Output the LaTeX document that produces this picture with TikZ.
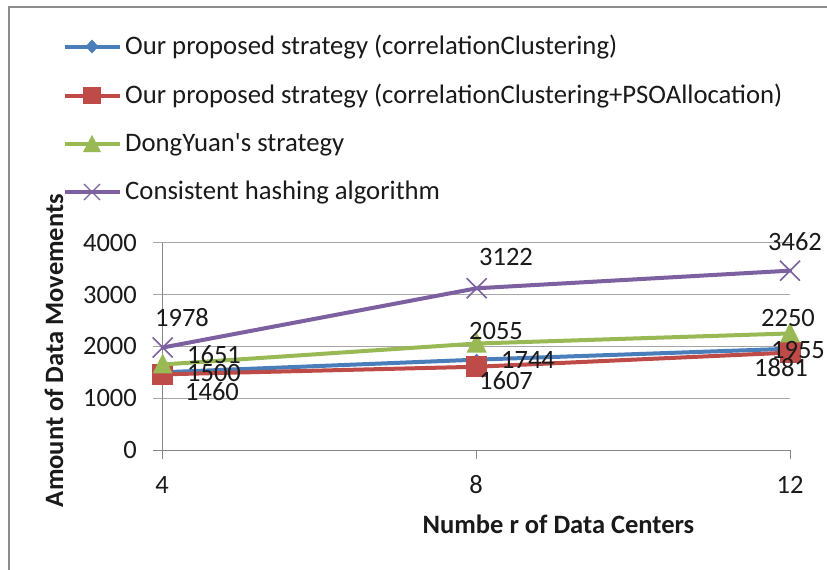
\documentclass[tikz,border=0pt]{standalone}
\usepackage{fontspec}
\setmainfont{Carlito}
\newfontfamily\plaincar{Carlito}
\usetikzlibrary{shapes.geometric}
\definecolor{sblue}{HTML}{4A7EBB}
\definecolor{sred}{HTML}{BE4B48}
\definecolor{sgreen}{HTML}{98B954}
\definecolor{spurple}{HTML}{7D60A0}
\definecolor{gridc}{HTML}{A6A6A6}
\definecolor{axisc}{HTML}{868686}
\definecolor{framec}{HTML}{8C8C8C}
\definecolor{txtc}{HTML}{1A1A1A}
\begin{document}
\begin{tikzpicture}[x=1pt,y=-1pt,
  numlbl/.style={font=\fontsize{26.5}{30}\selectfont, inner sep=0, text=txtc},
  leglbl/.style={font=\fontsize{26.7}{30}\selectfont, inner sep=0, anchor=base west, text=txtc},
  axtitle/.style={font=\fontsize{26.5}{30}\selectfont\bfseries, inner sep=0, anchor=base, text=txtc},
  gridline/.style={gridc, line width=1pt},
  axline/.style={axisc, line width=1pt},
  series/.style={line width=4pt, line join=round, line cap=round},
  sqmark/.style={rectangle, fill=sred, minimum size=21pt, inner sep=0},
  dimark/.style={diamond, fill=sblue, minimum width=12pt, minimum height=12pt, inner sep=0}
]
\useasboundingbox (0,0) rectangle (827,570);
\fill[white] (0,0) rectangle (827,570);
% frame
\draw[framec, line width=2pt] (9,572) -- (9,7) -- (829,7);

% grid
\foreach \v in {1000,2000,3000,4000}
  \draw[gridline] (153,{450-\v*0.0518}) -- (790,{450-\v*0.0518});
% axes
\draw[axline] (153,450) -- (790,450);
\draw[axline] (162.7,{450-4000*0.0518}) -- (162.7,459);
\draw[axline] (476.7,450) -- (476.7,459);
\draw[axline] (790,450) -- (790,459);

% tick labels
\node[numlbl, anchor=east] (y0) at (137,450) {0};
\node[numlbl, anchor=east] (y1) at (137,{450-1000*0.0518}) {1000};
\node[numlbl, anchor=east] (y2) at (137,{450-2000*0.0518}) {2000};
\node[numlbl, anchor=east] (y3) at (137,{450-3000*0.0518}) {3000};
\node[numlbl, anchor=east] (y4) at (137,{450-4000*0.0518}) {4000};
\node[numlbl] (x4) at (162,485) {4};
\node[numlbl] (x8) at (476,485) {8};
\node[numlbl] (x12) at (790,485) {12};

% titles
\node[axtitle, rotate=90] (ytitle) at (63,350.5) {Amount of Data Movements};
\node[axtitle] (xtitle) at (558.5,533) {Numbe r of Data Centers};

% data coordinates
\coordinate (b1) at (162.7,{450-1500*0.0518});
\coordinate (b2) at (476.7,{450-1744*0.0518});
\coordinate (b3) at (790,{450-1955*0.0518});
\coordinate (r1) at (162.7,{450-1460*0.0518});
\coordinate (r2) at (476.7,{450-1607*0.0518});
\coordinate (r3) at (790,{450-1881*0.0518});
\coordinate (g1) at (162.7,{450-1651*0.0518});
\coordinate (g2) at (476.7,{450-2055*0.0518});
\coordinate (g3) at (790,{450-2250*0.0518});
\coordinate (p1) at (162.7,{450-1978*0.0518});
\coordinate (p2) at (476.7,{450-3122*0.0518});
\coordinate (p3) at (790,{450-3462*0.0518});

% blue series
\draw[series, sblue] (b1) -- (b2) -- (b3);
\foreach \c in {b1,b2,b3} \node[dimark] at (\c) {};
% red series
\draw[series, sred] (r1) -- (r2) -- (r3);
\foreach \c in {r1,r2,r3} \node[sqmark] at (\c) {};
% green series
\draw[series, sgreen] (g1) -- (g2) -- (g3);
\foreach \c in {g1,g2,g3} \fill[sgreen, shift={(\c)}] (-10,9) -- (0,-11) -- (10,9) -- cycle;
% purple series
\draw[series, spurple] (p1) -- (p2) -- (p3);
\foreach \c in {p1,p2,p3} \draw[spurple, line width=1.6pt, shift={(\c)}] (-10,-10) -- (10,10) (-10,10) -- (10,-10);

% data labels
\node[numlbl] (l1978) at (182,317.7) {1978};
\node[numlbl] (l1651) at (214,355) {1651};
\node[numlbl] (l1500) at (214,373) {1500};
\node[numlbl] (l1460) at (212,391.7) {1460};
\node[numlbl] (l3122) at (506,256.7) {3122};
\node[numlbl] (l2055) at (496,331) {2055};
\node[numlbl] (l1744) at (528,360) {1744};
\node[numlbl] (l1607) at (506,380.7) {1607};
\node[numlbl] (l3462) at (795,241.7) {3462};
\node[numlbl] (l2250) at (788,318) {2250};
\node[numlbl] (l1955) at (798,350) {1955};
\node[numlbl] (l1881) at (781,368) {1881};

% legend
\coordinate (la1) at (65,46.5);  \coordinate (lb1) at (120,46.5);
\coordinate (la2) at (65,95.7);  \coordinate (lb2) at (120,95.7);
\coordinate (la3) at (65,144);   \coordinate (lb3) at (120,144);
\coordinate (la4) at (65,192);   \coordinate (lb4) at (120,192);
\draw[series, sblue, line cap=butt] (la1) -- (lb1);
\fill[sblue] (85.5,46.5) -- (92,39.5) -- (98.5,46.5) -- (92,53.5) -- cycle;
\draw[series, sred, line cap=butt] (la2) -- (lb2);
\fill[sred] (83.3,87) rectangle (100.7,104.4);
\draw[series, sgreen, line cap=butt] (la3) -- (lb3);
\fill[sgreen] (83,152) -- (92,135) -- (101,152) -- cycle;
\draw[series, spurple, line cap=butt] (la4) -- (lb4);
\draw[spurple, line width=1.2pt] (84,184) -- (100,200) (84,200) -- (100,184);
\node[leglbl] (t1) at (125,54.1) {Our proposed strategy (correlationClustering)};
\node[leglbl] (t2) at (125,103.3) {Our proposed strategy (correlationClustering+PSOAllocation)};
\node[leglbl] (t3) at (125,151.6) {DongYuan{\plaincar '}s strategy};
\node[leglbl] (t4) at (125,199.6) {Consistent hashing algorithm};
\end{tikzpicture}
\end{document}
